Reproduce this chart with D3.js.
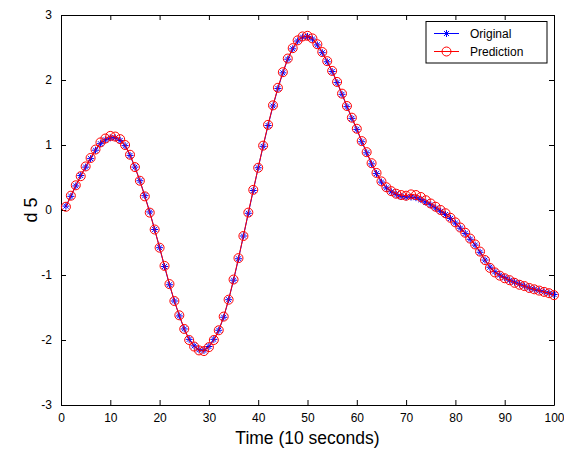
<!DOCTYPE html>
<html>
<head>
<meta charset="utf-8">
<script src="https://cdn.jsdelivr.net/npm/d3@7"></script>
<style>
  body { margin: 0; background: #fff; }
  text { font-family: "Liberation Sans", Arial, sans-serif; }
</style>
</head>
<body>
<div class="chart"></div>
<script>
// samples 1..100 (10 s each)
const original = [
  0.06, 0.21, 0.37, 0.53, 0.66, 0.79, 0.92, 1.02, 1.08, 1.11,
  1.11, 1.07, 0.99, 0.84, 0.66, 0.45, 0.22, -0.03, -0.30, -0.58,
  -0.87, -1.15, -1.40, -1.63, -1.83, -1.99, -2.09, -2.15, -2.16, -2.10,
  -1.99, -1.85, -1.65, -1.38, -1.08, -0.75, -0.40, -0.05, 0.30, 0.65,
  0.98, 1.30, 1.60, 1.87, 2.11, 2.32, 2.48, 2.60, 2.66, 2.67,
  2.63, 2.54, 2.42, 2.28, 2.13, 1.96, 1.78, 1.59, 1.41, 1.24,
  1.05, 0.88, 0.71, 0.56, 0.43, 0.34, 0.28, 0.24, 0.21, 0.20,
  0.20, 0.19, 0.16, 0.12, 0.08, 0.03, -0.02, -0.07, -0.13, -0.20,
  -0.28, -0.36, -0.45, -0.54, -0.65, -0.77, -0.88, -0.95, -1.00, -1.04,
  -1.08, -1.11, -1.14, -1.17, -1.20, -1.22, -1.24, -1.26, -1.28, -1.30
];
const prediction = [
  0.05, 0.22, 0.38, 0.52, 0.67, 0.80, 0.93, 1.04, 1.10, 1.14,
  1.13, 1.09, 1.00, 0.85, 0.66, 0.45, 0.21, -0.04, -0.30, -0.58,
  -0.86, -1.14, -1.40, -1.62, -1.83, -2.00, -2.10, -2.16, -2.17, -2.11,
  -2.00, -1.85, -1.64, -1.38, -1.07, -0.74, -0.40, -0.04, 0.31, 0.65,
  0.99, 1.31, 1.61, 1.88, 2.12, 2.33, 2.49, 2.61, 2.67, 2.68,
  2.64, 2.55, 2.43, 2.29, 2.14, 1.97, 1.79, 1.60, 1.42, 1.25,
  1.06, 0.89, 0.72, 0.57, 0.44, 0.35, 0.29, 0.25, 0.23, 0.22,
  0.24, 0.23, 0.20, 0.15, 0.10, 0.05, 0.00, -0.05, -0.12, -0.19,
  -0.27, -0.35, -0.44, -0.53, -0.64, -0.77, -0.89, -0.96, -1.01, -1.05,
  -1.08, -1.12, -1.15, -1.17, -1.20, -1.22, -1.24, -1.26, -1.28, -1.31
];
const xTicks = [0, 10, 20, 30, 40, 50, 60, 70, 80, 90, 100];
const yTicks = [-3, -2, -1, 0, 1, 2, 3];
const seriesNames = ['Original', 'Prediction'];

const width = 564, height = 449;
const margin = {left: 61, right: 10, top: 15, bottom: 44};

const svg = d3.select('.chart').append('svg')
  .attr('width', width)
  .attr('height', height)
  .style('display', 'block');

svg.append('rect').attr('width', width).attr('height', height).attr('fill', '#fff');

const x = d3.scaleLinear().domain([0, 100]).range([margin.left, width - margin.right]);
const y = d3.scaleLinear().domain([-3, 3]).range([height - margin.bottom, margin.top]);

// axes, ticks pointing inward on all four sides
const tickLen = 5;
const fmt = d3.format('d');
const axBottom = svg.append('g')
  .attr('transform', `translate(0,${y(-3)})`)
  .call(d3.axisBottom(x).tickValues(xTicks).tickFormat(fmt).tickSizeInner(-tickLen).tickSizeOuter(0).tickPadding(8));
const axTop = svg.append('g')
  .attr('transform', `translate(0,${y(3)})`)
  .call(d3.axisTop(x).tickValues(xTicks).tickSizeInner(-tickLen).tickSizeOuter(0).tickFormat(''));
const axLeft = svg.append('g')
  .attr('transform', `translate(${x(0)},0)`)
  .call(d3.axisLeft(y).tickValues(yTicks).tickFormat(fmt).tickSizeInner(-tickLen).tickSizeOuter(0).tickPadding(9));
const axRight = svg.append('g')
  .attr('transform', `translate(${x(100)},0)`)
  .call(d3.axisRight(y).tickValues(yTicks).tickSizeInner(-tickLen).tickSizeOuter(0).tickFormat(''));

[axBottom, axTop, axLeft, axRight].forEach(g => {
  g.select('.domain').attr('stroke', '#000').attr('stroke-width', 1);
  g.selectAll('.tick line').attr('stroke', '#000');
  g.selectAll('.tick text').attr('font-size', 12).attr('fill', '#000')
    .style('font-family', '"Liberation Sans", Arial, sans-serif');
});
// MATLAB-style hyphen minus
axLeft.selectAll('.tick text').text(d => String(d));

// lines
const line = d3.line().x((d, i) => x(i + 1)).y(d => y(d));

svg.append('path').datum(original)
  .attr('d', line).attr('fill', 'none').attr('stroke', '#0000ff').attr('stroke-width', 1);

// star markers (+ and x combined)
function star(g, cx, cy, s) {
  const a = s * 0.72;
  g.append('path')
    .attr('d', `M${cx - s},${cy}L${cx + s},${cy}M${cx},${cy - s}L${cx},${cy + s}` +
      `M${cx - a},${cy - a}L${cx + a},${cy + a}M${cx - a},${cy + a}L${cx + a},${cy - a}`)
    .attr('stroke', '#0000ff').attr('stroke-width', 1).attr('fill', 'none');
}
const stars = svg.append('g');
original.forEach((d, i) => star(stars, x(i + 1), y(d), 3.5));

svg.append('path').datum(prediction)
  .attr('d', line).attr('fill', 'none').attr('stroke', '#ff0000').attr('stroke-width', 1);

svg.append('g').selectAll('circle').data(prediction).join('circle')
  .attr('cx', (d, i) => x(i + 1))
  .attr('cy', d => y(d))
  .attr('r', 4.5)
  .attr('fill', 'none')
  .attr('stroke', '#ff0000')
  .attr('stroke-width', 1);

// axis labels
svg.append('text')
  .attr('x', (x(0) + x(100)) / 2).attr('y', 444)
  .attr('text-anchor', 'middle').attr('font-size', 17.5)
  .text('Time (10 seconds)');

svg.append('text')
  .attr('transform', `translate(37,${y(0)}) rotate(-90)`)
  .attr('text-anchor', 'middle').attr('font-size', 18)
  .style('white-space', 'pre')
  .text('d 5');

// legend
const lg = svg.append('g');
lg.append('rect')
  .attr('x', 426).attr('y', 21.5).attr('width', 121).attr('height', 41.5)
  .attr('fill', '#fff').attr('stroke', '#000').attr('stroke-width', 1);
const rowY = [33.5, 51.5];
const colors = ['#0000ff', '#ff0000'];
seriesNames.forEach((name, i) => {
  lg.append('line')
    .attr('x1', 434).attr('x2', 459).attr('y1', rowY[i]).attr('y2', rowY[i])
    .attr('stroke', colors[i]);
  if (i === 0) star(lg, 446.5, rowY[i], 3.5);
  else lg.append('circle').attr('cx', 446.5).attr('cy', rowY[i]).attr('r', 4.5)
    .attr('fill', 'none').attr('stroke', colors[i]);
  lg.append('text')
    .attr('x', 470).attr('y', rowY[i] + 4.5)
    .attr('font-size', 12)
    .text(name);
});
</script>
</body>
</html>
